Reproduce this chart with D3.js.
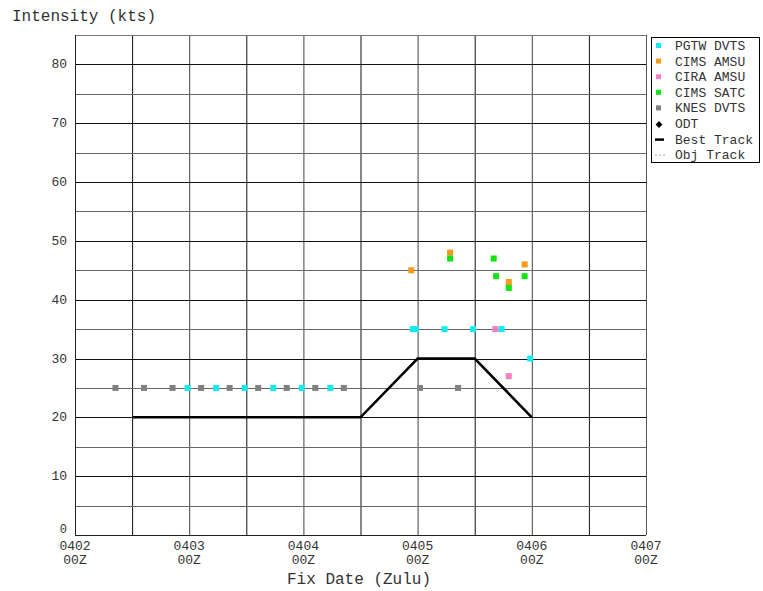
<!DOCTYPE html>
<html>
<head>
<meta charset="utf-8">
<script src="https://cdn.jsdelivr.net/npm/d3@7"></script>
<style>
  body { margin: 0; background: #fff; }
  text { font-family: "Liberation Mono", "DejaVu Sans Mono", monospace; fill: #333; }
</style>
</head>
<body>
<script>
// fix data, time as "MMDD HHMM" (Zulu), value in kts
var pgtwDvts = [
  ["0402 2340", 25], ["0403 0540", 25], ["0403 1140", 25], ["0403 1740", 25],
  ["0403 2340", 25], ["0404 0540", 25], ["0404 2300", 35], ["0404 2340", 35],
  ["0405 0540", 35], ["0405 1140", 35], ["0405 1740", 35], ["0405 2340", 30]
];
var cimsAmsu = [["0404 2240", 45], ["0405 0650", 48], ["0405 1910", 43], ["0405 2230", 46]];
var ciraAmsu = [["0405 1620", 35], ["0405 1910", 27]];
var cimsSatc = [["0405 0650", 47], ["0405 1600", 47], ["0405 1630", 44], ["0405 1910", 42], ["0405 2230", 44]];
var knesDvts = [
  ["0402 0830", 25], ["0402 1430", 25], ["0402 2030", 25], ["0403 0230", 25],
  ["0403 0830", 25], ["0403 1430", 25], ["0403 2030", 25], ["0404 0230", 25],
  ["0404 0830", 25], ["0405 0030", 25], ["0405 0830", 25]
];
var bestTrack = [["0402 1200", 20], ["0404 1200", 20], ["0405 0000", 30], ["0405 1200", 30], ["0406 0000", 20]];

var xTickLabels = ["0402", "0403", "0404", "0405", "0406", "0407"];
var yTicks = [0, 10, 20, 30, 40, 50, 60, 70, 80];

var legendNames = ["PGTW DVTS", "CIMS AMSU", "CIRA AMSU", "CIMS SATC", "KNES DVTS", "ODT", "Best Track", "Obj Track"];

var parse = d3.utcParse("%m%d %H%M");

var svg = d3.select("body").append("svg")
  .attr("width", 763)
  .attr("height", 591);

var pLeft = 75, pRight = 646, pTop = 35, pBottom = 535;

var x = d3.scaleUtc()
  .domain([parse("0402 0000"), parse("0407 0000")])
  .range([pLeft, pRight]);
var y = d3.scaleLinear().domain([0, 85]).range([pBottom, pTop]);

// grid: every 12 h and every 5 kts
var gridX = d3.utcHour.every(12).range(parse("0402 1200"), parse("0407 0000"));
svg.append("g").selectAll("line").data(gridX).join("line")
  .attr("x1", d => x(d) + 0.5).attr("x2", d => x(d) + 0.5)
  .attr("y1", pTop).attr("y2", pBottom)
  .attr("stroke", (d, i) => i % 2 ? "#444" : "#111")
  .attr("stroke-width", 1);

svg.append("g").selectAll("line").data(d3.range(5, 85, 5)).join("line")
  .attr("x1", pLeft).attr("x2", pRight)
  .attr("y1", d => Math.round(y(d)) + 0.5).attr("y2", d => Math.round(y(d)) + 0.5)
  .attr("stroke", d => d % 10 ? "#666" : "#111")
  .attr("stroke-width", 1);

// frame
svg.append("line").attr("x1", pLeft).attr("x2", pRight).attr("y1", pTop + 0.5).attr("y2", pTop + 0.5).attr("stroke", "#777");
svg.append("line").attr("x1", pLeft + 0.5).attr("x2", pLeft + 0.5).attr("y1", pTop).attr("y2", pBottom).attr("stroke", "#222");
svg.append("line").attr("x1", pLeft).attr("x2", pRight).attr("y1", pBottom + 0.5).attr("y2", pBottom + 0.5).attr("stroke", "#222");
svg.append("line").attr("x1", pRight + 0.5).attr("x2", pRight + 0.5).attr("y1", pTop).attr("y2", pBottom).attr("stroke", "#555");

// y labels
svg.append("g").selectAll("text").data(yTicks).join("text")
  .attr("x", d => d === 0 ? 67 : 67)
  .attr("y", d => d === 0 ? y(d) - 2 : y(d) + 4)
  .attr("text-anchor", "end")
  .attr("font-size", d => d === 0 ? 12 : 13)
  .text(d => d);

// x labels, two lines each
var xg = svg.append("g").attr("text-anchor", "middle").attr("font-size", 13);
xg.selectAll("text.day").data(xTickLabels).join("text")
  .attr("class", "day")
  .attr("x", d => x(parse(d + " 0000")))
  .attr("y", 550)
  .text(d => d);
xg.selectAll("text.hr").data(xTickLabels).join("text")
  .attr("class", "hr")
  .attr("x", d => x(parse(d + " 0000")))
  .attr("y", 564)
  .text("00Z");

svg.append("text").attr("x", 12).attr("y", 21).attr("font-size", 16).text("Intensity (kts)");
svg.append("text").attr("x", 359).attr("y", 584).attr("text-anchor", "middle").attr("font-size", 16).text("Fix Date (Zulu)");

// best track
var line = d3.line().x(d => x(parse(d[0]))).y(d => y(d[1]));
svg.append("path")
  .attr("d", line(bestTrack))
  .attr("fill", "none")
  .attr("stroke", "#000")
  .attr("stroke-width", 2.5);

// fixes
function squares(data, color) {
  svg.append("g").selectAll("rect").data(data).join("rect")
    .attr("x", d => x(parse(d[0])) - 3)
    .attr("y", d => y(d[1]) - 3)
    .attr("width", 6).attr("height", 6)
    .attr("fill", color);
}
squares(ciraAmsu, "#f77fbf");
squares(cimsAmsu, "#f59a1a");
squares(cimsSatc, "#12e312");
squares(knesDvts, "#808080");
squares(pgtwDvts, "#14eaf0");

// legend
var lg = svg.append("g");
lg.append("rect").attr("x", 651.5).attr("y", 37.5).attr("width", 108).attr("height", 125)
  .attr("fill", "#fff").attr("stroke", "#000");
var colors = ["#14eaf0", "#f59a1a", "#f77fbf", "#12e312", "#808080"];
legendNames.forEach(function (name, i) {
  var cy = 46 + i * 15.6;
  if (i < 5) {
    lg.append("rect").attr("x", 656).attr("y", cy - 3).attr("width", 5).attr("height", 5).attr("fill", colors[i]);
  } else if (i === 5) {
    lg.append("path").attr("d", d3.symbol(d3.symbolDiamond2, 30)()).attr("transform", "translate(659," + (cy + 0.5) + ")").attr("fill", "#000");
  } else if (i === 6) {
    lg.append("line").attr("x1", 655).attr("x2", 664).attr("y1", cy).attr("y2", cy).attr("stroke", "#000").attr("stroke-width", 2.5);
  } else {
    lg.append("line").attr("x1", 655).attr("x2", 665).attr("y1", cy).attr("y2", cy).attr("stroke", "#e08aa0").attr("stroke-width", 1).attr("stroke-dasharray", "2,2");
  }
  lg.append("text").attr("x", 675).attr("y", cy + 4).attr("font-size", 13).text(name);
});
</script>
</body>
</html>
